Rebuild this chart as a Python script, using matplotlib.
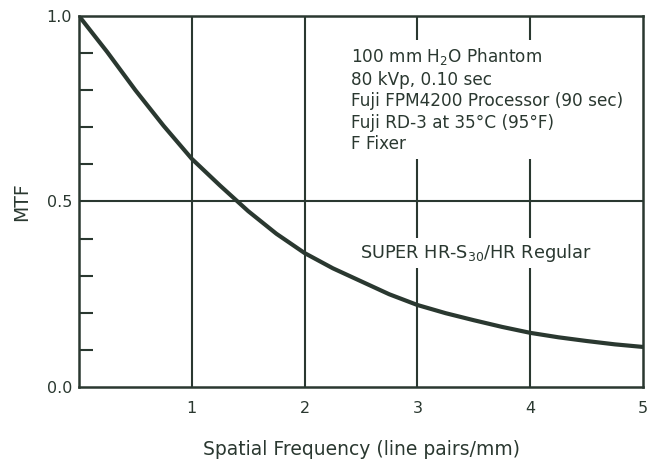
import numpy as np
import matplotlib.pyplot as plt
from matplotlib.ticker import MultipleLocator

plt.rcParams['font.family'] = ['DejaVu Sans']
plt.rcParams['mathtext.fontset'] = 'dejavusans'

INK = '#2a3830'

# MTF readings, SUPER HR-S30 / HR Regular
freq = [0, 0.25, 0.5, 0.75, 1, 1.25, 1.5, 1.75, 2, 2.25, 2.5,
        2.75, 3, 3.25, 3.5, 3.75, 4, 4.25, 4.5, 4.75, 5]
mtf = [1.0, 0.903, 0.80, 0.704, 0.615, 0.543, 0.474, 0.413, 0.361, 0.320, 0.285,
       0.250, 0.221, 0.199, 0.180, 0.162, 0.146, 0.134, 0.124, 0.115, 0.108]

x_ticks = [1, 2, 3, 4, 5]
y_ticks = [0.0, 0.5, 1.0]

conditions = [
    r'100 mm H$_2$O Phantom',
    '80 kVp, 0.10 sec',
    'Fuji FPM4200 Processor (90 sec)',
    'Fuji RD-3 at 35°C (95°F)',
    'F Fixer',
]

fig = plt.figure(figsize=(6.47, 4.68), dpi=100)
ax = fig.add_axes([0.122, 0.173, 0.872, 0.793])

for xv in x_ticks[:-1]:
    ax.axvline(xv, color=INK, lw=1.5, zorder=1)
ax.axhline(0.5, color=INK, lw=1.5, zorder=1)

ax.plot(freq, mtf, color=INK, lw=3, solid_capstyle='butt', zorder=3)

ax.set_xlim(0, 5)
ax.set_ylim(0, 1)
ax.set_xticks(x_ticks)
ax.set_xticklabels([str(v) for v in x_ticks])
ax.set_yticks(y_ticks)
ax.set_yticklabels(['0.0', '0.5', '1.0'])
ax.yaxis.set_minor_locator(MultipleLocator(0.1))
ax.tick_params(axis='both', which='major', length=0, labelsize=11.5,
               colors=INK)
ax.tick_params(axis='y', which='major', pad=5)
ax.tick_params(axis='x', which='major', pad=10)
ax.tick_params(axis='y', which='minor', direction='in', length=10,
               width=1.5, color=INK)
ax.tick_params(axis='x', which='minor', length=0)
for sp in ax.spines.values():
    sp.set_color(INK)
    sp.set_linewidth(1.8)

ax.set_xlabel('Spatial Frequency (line pairs/mm)', fontsize=13.5,
              color=INK, labelpad=17)
ax.set_ylabel('MTF', fontsize=13.5, color=INK, labelpad=11)

ax.text(2.41, 0.918, '\n'.join(conditions), fontsize=12.2, color=INK,
        va='top', ha='left', linespacing=1.25, zorder=4,
        bbox=dict(facecolor='white', edgecolor='none', pad=4))
ax.text(2.49, 0.362, r'SUPER HR-S$_{30}$/HR Regular', fontsize=12.8,
        color=INK, va='center', ha='left', zorder=4,
        bbox=dict(facecolor='white', edgecolor='none', pad=3))

fig.savefig('out.png', dpi=100)
